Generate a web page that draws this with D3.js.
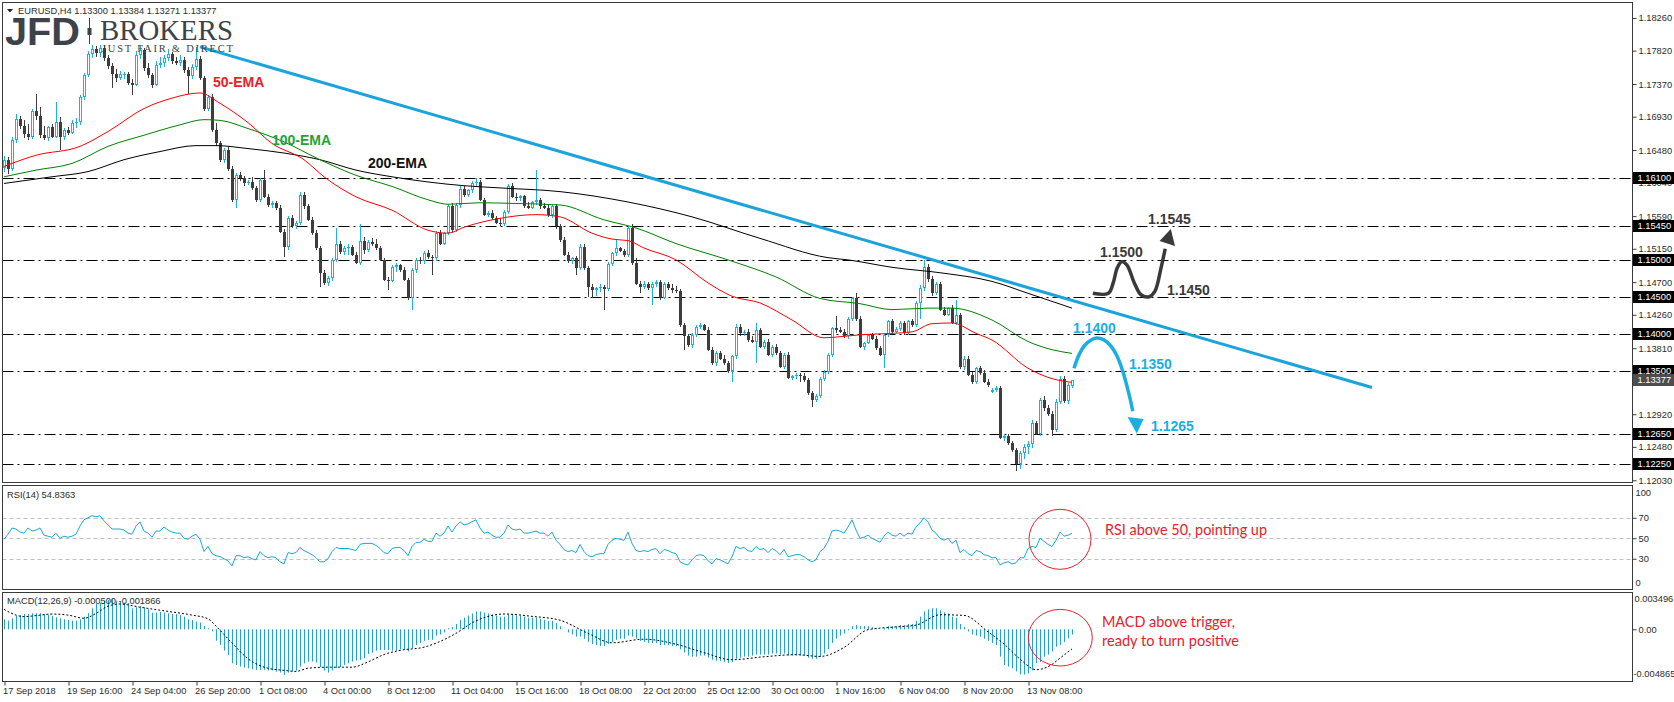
<!DOCTYPE html>
<html><head><meta charset="utf-8">
<script src="https://cdn.jsdelivr.net/npm/d3@7/dist/d3.min.js"></script>
<style>
html,body{margin:0;padding:0;background:#fff;}
svg{display:block;font-family:"Liberation Sans",Arial,sans-serif;}
</style></head><body>
<svg id="chart" width="1674" height="702"></svg>
<script>
// ===== DATA (prices in pips above 1.1000) =====
const basePrice = 1.1000;
const ohlcPips = [
[624,640,618,635],[635,639,616,622],[622,665,620,661],[661,697,657,690],[690,694,676,681],
[681,688,664,669],[669,683,662,665],[665,704,663,700],[700,724,688,694],[694,706,664,668],
[668,681,661,664],[664,681,660,679],[679,683,664,666],[666,713,664,686],[686,693,648,666],
[666,678,662,675],[675,679,668,671],[671,688,669,684],[684,691,678,686],[686,722,682,720],
[720,752,716,749],[749,782,746,778],[778,789,772,784],[784,788,774,779],[779,790,774,786],
[786,789,768,772],[772,776,757,761],[761,766,731,751],[751,757,740,745],[745,755,742,751],
[749,753,744,750],[750,753,736,738],[738,744,722,736],[736,781,734,776],[776,789,771,783],
[783,786,755,758],[758,765,745,749],[749,752,731,736],[736,768,734,763],[763,773,759,766],
[766,776,760,772],[772,784,768,777],[777,780,764,768],[768,774,762,765],[765,776,761,770],
[770,773,752,756],[756,760,724,748],[748,764,744,760],[760,787,756,771],[771,775,742,745],
[745,748,700,704],[704,722,700,720],[720,723,672,675],[675,684,654,657],[657,660,632,635],
[635,651,631,648],[648,652,620,623],[623,627,578,581],[581,617,570,614],[614,619,606,610],
[610,613,600,603],[603,607,601,605],[605,612,594,597],[597,600,578,581],[581,611,578,608],
[608,621,583,585],[585,589,571,574],[574,580,570,576],[576,580,567,570],[570,574,536,538],
[538,541,504,518],[518,559,514,556],[556,560,543,545],[545,553,541,550],[550,591,547,588],
[588,592,569,572],[572,575,552,554],[554,558,534,536],[536,540,514,516],[516,519,464,482],
[482,486,466,469],[469,478,465,475],[475,503,472,500],[500,543,497,522],[522,526,508,511],
[511,519,507,516],[516,521,506,518],[518,520,505,507],[507,511,494,496],[496,549,493,525],
[525,531,508,513],[513,527,511,524],[524,529,519,522],[522,528,514,516],[516,519,498,500],
[500,503,471,473],[473,477,460,472],[472,493,470,491],[491,496,484,493],[493,495,484,486],
[486,490,471,473],[473,476,446,448],[448,489,433,486],[486,502,482,500],[500,504,494,498],
[498,512,495,509],[509,513,501,504],[504,507,480,502],[502,539,499,536],[536,540,520,522],
[522,538,520,536],[536,575,533,572],[572,576,537,540],[540,577,538,574],[574,599,570,596],
[596,600,585,588],[588,596,585,594],[594,606,590,603],[603,610,598,605],[605,607,579,581],
[581,584,559,561],[561,566,558,563],[563,567,554,556],[556,559,548,550],[550,556,546,549],
[549,567,546,565],[565,602,562,599],[599,603,583,585],[585,590,580,583],[583,588,579,586],
[586,588,570,572],[572,578,568,570],[570,580,568,578],[578,621,574,581],[581,584,569,572],
[572,577,568,570],[570,574,558,561],[561,574,556,572],[572,575,542,545],[545,548,524,527],
[527,531,505,507],[507,510,496,498],[498,504,495,502],[502,505,480,489],[489,521,486,518],
[518,522,487,489],[489,492,450,464],[464,467,448,460],[460,464,452,462],[462,467,457,463],
[463,466,433,461],[461,497,458,495],[495,511,492,509],[509,527,505,516],[516,517,510,512],
[512,515,504,507],[507,546,504,543],[543,549,493,496],[496,503,466,468],[468,472,455,464],
[464,471,461,468],[468,470,460,462],[462,470,439,468],[468,473,463,470],[470,473,446,449],
[449,470,447,468],[468,470,460,462],[462,467,456,460],[460,465,455,458],[458,461,410,412],
[412,415,379,397],[397,400,382,385],[385,401,381,399],[399,412,396,410],[410,415,407,412],
[412,414,404,406],[406,409,377,379],[379,382,358,361],[361,377,357,374],[374,377,365,367],
[367,372,359,361],[361,364,347,350],[350,372,336,370],[370,413,366,410],[410,414,398,401],
[401,405,398,403],[403,407,390,392],[392,398,388,390],[390,415,361,406],[406,408,381,383],
[383,392,380,390],[390,393,370,372],[372,385,369,383],[383,386,372,374],[374,377,354,356],
[356,374,353,372],[372,376,339,341],[341,345,338,343],[343,347,340,345],[345,348,336,344],
[344,347,336,338],[338,341,318,320],[320,323,302,311],[311,319,308,317],[317,342,314,340],
[340,351,337,349],[349,374,346,372],[372,410,369,408],[408,424,402,405],[405,409,401,403],
[403,407,395,397],[397,423,393,421],[421,450,418,448],[448,456,417,420],[420,424,381,383],
[383,390,379,388],[388,400,386,399],[399,402,392,394],[394,397,379,381],[381,384,370,372],
[372,400,354,399],[399,419,396,417],[417,420,401,403],[403,410,401,407],[407,417,404,415],
[415,418,399,401],[401,419,399,417],[417,420,410,412],[412,444,410,442],[442,466,420,462],
[462,500,458,490],[490,494,470,474],[474,478,452,455],[455,470,453,467],[467,470,431,433],
[433,437,424,426],[426,437,424,435],[435,439,413,415],[415,446,412,426],[426,429,353,356],
[356,370,352,367],[367,370,343,345],[345,349,333,336],[336,356,333,354],[354,357,345,347],
[347,352,334,336],[336,339,329,332],[322,327,320,325],[325,330,322,327],[327,330,258,260],
[260,266,256,263],[263,265,250,253],[253,256,241,244],[244,247,216,225],[225,242,218,240],
[240,252,232,248],[248,256,238,252],[252,284,247,280],[280,283,264,266],[266,314,262,311],
[311,316,297,300],[300,305,289,292],[292,296,262,271],[271,312,268,309],[309,344,306,340],
[340,344,307,310],[310,334,306,331],[330,338.4,327.1,337.7]
];
// moving averages read at sample bars: [barIndex, pips]
const ema50 = [[0,626],[8,641],[19,653],[26,673],[35,704],[42,718],[49,725],[54,711],[61,685],[67,657],[75,635],[80,612],[88,585],[97,567],[106,540],[111,536],[115,544],[124,556],[133,561],[139,558],[147,536],[152,528],[156,526],[160,516],[168,500],[176,469],[182,451],[189,442],[197,419],[205,395],[210,397],[214,399],[222,401],[227,403],[232,414],[237,415],[243,401],[247,392],[256,354],[262,340],[267,335]];
const ema100 = [[0,612],[8,621],[17,630],[26,653],[35,668],[44,682],[50,689],[54,688],[61,677],[70,659],[79,635],[88,614],[97,599],[106,581],[111,575],[119,577],[128,576],[139,574],[150,554],[158,543],[168,522],[181,500],[193,477],[204,448],[214,441],[222,433],[231,435],[237,435],[247,419],[256,390],[262,379],[267,374]];
const ema200 = [[0,603],[12,612],[21,619],[30,635],[39,646],[48,654],[53,654],[61,650],[70,644],[79,635],[88,621],[97,612],[106,605],[115,600],[124,597],[139,592],[156,578],[172,558],[189,529],[206,503],[211,500],[222,490],[235,482],[247,471],[256,455],[267,435]];
const rsi14 = [
49,54,60,59,56,55,60,57,58,60, 53,52,51,55,50,52,51,52,54,62,
68,70,72,71,72,67,63,59,59,59, 58,55,54,62,66,57,55,51,57,57,
61,58,56,55,55,50,49,52,54,49, 37,42,35,33,32,30,28,23,33,33,
31,32,30,29,37,33,31,32,31,27, 25,36,35,36,41,38,36,34,31,27,
27,30,37,41,40,40,40,39,38,44, 45,45,45,43,40,36,35,40,41,41,
38,33,42,46,46,49,47,47,55,52, 55,62,56,62,66,63,64,66,68,60,
55,56,53,51,51,55,63,59,58,59, 55,55,56,57,55,55,52,56,48,44,
39,37,38,36,44,37,33,32,34,35, 35,44,48,50,49,48,56,45,38,37,
38,37,39,40,35,39,38,36,35,27, 25,24,29,33,34,33,28,25,30,29,
27,25,32,42,40,41,38,37,42,39, 40,36,40,38,34,39,32,33,34,34,
32,29,27,29,37,40,47,57,58,57, 55,61,68,58,50,51,53,50,48,46,
52,56,53,52,55,52,55,54,61,65, 70,66,58,55,50,48,50,45,48,36,
39,35,33,38,37,34,33,31,31,24, 26,27,25,26,31,31,40,42,41,50,
47,44,42,48,56,52,53,54.84];
// MACD main (histogram), in units of 0.0001
const macdMain = [
9.5,8.2,10.4,12.7,13.6,14.6,14.6,15.2,15.2,15.2, 14.6,13.6,12.7,11.4,10.4,9.5,8.9,8.2,8.2,9.5,
12,15.2,19.9,24,25.3,27.2,27.8,28.5,27.2,26.3, 25.3,24,19.9,20.9,22,20.9,19,15.8,15.8,16.5,
15.8,15.2,14.6,14.6,13.6,12,9.5,8.9,7.3,6.3, 3.2,0.9,-2,-10.8,-14.9,-20.2,-24.4,-32.3,-33.9,-35.4,
-36.4,-37,-38,-38.6,-38.6,-38.6,-39.2,-39.2,-40.2,-41.1, -43.4,-41.1,-40.2,-39.2,-35.4,-32.3,-30.7,-30.7,-31.6,-36,
-39.2,-41.1,-39.2,-37,-36,-33.9,-32.3,-30.7,-29.7,-29.1, -27.5,-23.4,-22.2,-20.2,-19.6,-19.6,-19.6,-20.2,-20.2,-19,
-19,-21,-18,-15,-13,-11,-10,-10,-6,-5, -3,1,2,5,9,11,13,15,17,17,
16,15,14,13,12,12,14,14,13,13, 12,11,11,11,10,9,8,8,6,3,
0,-3,-5,-7,-7,-9,-12,-14,-15,-16, -16,-14,-12,-10,-9,-9,-6,-7,-9,-11,
-12,-13,-13,-13,-15,-15,-15,-16,-16,-19, -22,-25,-26,-26,-25,-25,-27,-29,-30,-30,
-31,-32,-31,-28,-27,-26,-26,-25,-24,-24, -24,-24,-23,-23,-24,-23,-25,-25,-25,-25,
-25,-27,-28,-28,-26,-23,-19,-13,-9,-6, -4,-1,3,4,3,3,3,2,1,0,
1,3,3,3,4,4,5,5,8,12, 17,19,20,20,18,16,15,12,11,5,
2,-2,-5,-6,-7,-9,-11,-13,-15,-26, -34,-35.5,-37,-40,-43,-43,-42,-39,-32,-31,
-26,-24,-21,-16.5,-15,-12,-8.5,-5];
// MACD signal read at sample bars: [barIndex, 0.0001 units]
const macdSignal = [[0,19],[2,15],[5,12],[8,13],[12,14.5],[16,13.5],[20,10.5],[23,15],[26,22],[29,24],[34,21],[41,17],[47,13.5],[51,10],[53,3],[57,-13],[61,-28],[66,-37],[70,-39],[73,-40],[76,-37],[81,-36],[87,-36],[91,-31],[95,-24],[99,-20],[105,-17],[112,-6],[118,8],[125,14.5],[132,12.3],[139,8.6],[146,-3.8],[152,-12.8],[160,-9.4],[168,-14.2],[175,-22.2],[182,-28.9],[190,-26.1],[198,-24.1],[204,-25.8],[210,-17.3],[216,-0.4],[222,2],[228,4],[234,13.8],[240,13.2],[246,-2.4],[250,-14],[254,-28.3],[258,-38.4],[262,-33.4],[264,-27.4],[267,-18.66]];
const hLevels = [1.1610,1.1545,1.1500,1.1450,1.1400,1.1350,1.1265,1.1225];
const priceTicks = [1.18260,1.17820,1.17370,1.16930,1.16480,1.16040,1.15590,1.15150,1.14700,1.14260,1.13810,1.12920,1.12480,1.12030];
const lastPrice = 1.13377;
const timeLabelBars = [0,16,32,48,64,80,96,112,128,144,160,176,192,208,224,240,256];
const timeLabels = ["17 Sep 2018","19 Sep 16:00","24 Sep 04:00","26 Sep 20:00","1 Oct 08:00","4 Oct 00:00","8 Oct 12:00","11 Oct 04:00","15 Oct 16:00","18 Oct 08:00","22 Oct 20:00","25 Oct 12:00","30 Oct 00:00","1 Nov 16:00","6 Nov 04:00","8 Nov 20:00","13 Nov 08:00"];
const rsiLevels = [70,50,30];
const trendLine = [[49,1.17870],[342,1.13280]];
// scenario paths: [barIndex, pips]
const bullPath = [[272.2,455],[276.1,455],[277.3,469],[278.3,489],[279.4,497.6],[280.75,493],[282.5,470],[284.25,453],[286.3,450.4],[287.75,458],[289.25,489],[290.3,515]];
const bullHead = [[291.7,541.7],[288.9,525.5],[292.75,518.8]];
const bearPath = [[267.5,354],[268.75,372],[270.25,385.3],[272,392.8],[273.25,394.8],[274.75,392.8],[276.5,385.3],[278.25,370.6],[279.75,349],[281.25,319],[282.2,296]];
const bearHead = [[283.2,266],[280.9,288.3],[284.9,285.6]];
const bullLabels = [["1.1545",286,555],["1.1500",274,511],["1.1450",290.75,459.5]];
const bearLabels = [["1.1400",267.25,408.7],["1.1350",281.25,359.7],["1.1265",286.75,276]];

// ===== DRAWING =====
const svg = d3.select('#chart');
const toP = v => basePrice + v/10000;
const BULL='#1ab2e8', BEAR='#3d3d3d', FRAME='#3a3a3a', TXT='#2b2b2b';
const L=2.5, R=1632.5;
const n = ohlcPips.length;
const x = d3.scaleLinear().domain([0,n-1]).range([4,4+4*(n-1)]);
const yMain = d3.scaleLinear().domain([1.1200,1.18462]).range([482.5,3]);
const yRsi = d3.scaleLinear().domain([0,100]).range([589.5,487]);
const yMacd = d3.scaleLinear().domain([-0.004865,0.003496]).range([680.5,592.5]);

const defs = svg.append('defs');
defs.append('clipPath').attr('id','cMain').append('rect').attr('x',L).attr('y',2.5).attr('width',R-L).attr('height',480);
defs.append('clipPath').attr('id','cRsi').append('rect').attr('x',L).attr('y',485.5).attr('width',R-L).attr('height',104);
defs.append('clipPath').attr('id','cMacd').append('rect').attr('x',L).attr('y',592.5).attr('width',R-L).attr('height',89);

const gMain = svg.append('g').attr('clip-path','url(#cMain)');
gMain.selectAll('line.lvl').data(hLevels).join('line')
  .attr('x1',L).attr('x2',R)
  .attr('y1',d=>Math.round(yMain(d))+0.5).attr('y2',d=>Math.round(yMain(d))+0.5)
  .attr('stroke','#000').attr('stroke-width',1).attr('stroke-dasharray','11,4,2,4');

const gC = gMain.append('g');
ohlcPips.forEach((d,i)=>{
  const [o,h,l,c] = d.map(toP);
  const cx = Math.round(x(i));
  const up = c>=o;
  const yT = Math.round(yMain(Math.max(o,c))), yB = Math.round(yMain(Math.min(o,c)));
  const yH = Math.round(yMain(h)), yL = Math.round(yMain(l));
  if(up){
    if(yH<yT) gC.append('line').attr('x1',cx+0.5).attr('x2',cx+0.5).attr('y1',yH).attr('y2',yT).attr('stroke',BULL);
    if(yL>yB) gC.append('line').attr('x1',cx+0.5).attr('x2',cx+0.5).attr('y1',yB).attr('y2',yL).attr('stroke',BULL);
    if(yB-yT>=2){
      gC.append('rect').attr('x',cx-0.5).attr('y',yT+0.5).attr('width',2).attr('height',yB-yT-1)
        .attr('fill','#fff').attr('stroke',BULL).attr('stroke-width',1);
    } else {
      gC.append('rect').attr('x',cx-1).attr('y',yT).attr('width',3).attr('height',Math.max(1,yB-yT)).attr('fill',BULL);
    }
  } else {
    gC.append('line').attr('x1',cx+0.5).attr('x2',cx+0.5).attr('y1',yH).attr('y2',yL).attr('stroke',BEAR);
    gC.append('rect').attr('x',cx-1).attr('y',yT).attr('width',3).attr('height',Math.max(1,yB-yT)).attr('fill',BEAR);
  }
});

const emaLine = d3.line().x(d=>x(d[0])).y(d=>yMain(toP(d[1]))).curve(d3.curveMonotoneX);
[[ema200,'#000'],[ema100,'#008000'],[ema50,'#ff0000']].forEach(([arr,col])=>{
  gMain.append('path').attr('d',emaLine(arr)).attr('fill','none').attr('stroke',col).attr('stroke-width',1);
});
gMain.append('line').attr('x1',x(trendLine[0][0])).attr('y1',yMain(trendLine[0][1]))
  .attr('x2',x(trendLine[1][0])).attr('y2',yMain(trendLine[1][1]))
  .attr('stroke','#1ba3dc').attr('stroke-width',3);

const emaLbl = [["50-EMA",213,82,'#ee1c25'],["100-EMA",272,140,'#1fa337'],["200-EMA",368,163,'#111']];
emaLbl.forEach(([t,px,py,col])=>{
  svg.append('text').attr('x',px).attr('y',py).attr('dy','0.35em').attr('fill',col)
    .attr('font-size',14).attr('font-weight','bold').text(t);
});

const aLine = d3.line().x(d=>x(d[0])).y(d=>yMain(toP(d[1]))).curve(d3.curveCatmullRom);
svg.append('path').attr('d',aLine(bullPath)).attr('fill','none').attr('stroke','#3a3a3a').attr('stroke-width',3.5);
svg.append('path').attr('d','M'+bullHead.map(d=>[x(d[0]),yMain(toP(d[1]))].join(',')).join('L')+'Z').attr('fill','#3a3a3a');
svg.append('path').attr('d',aLine(bearPath)).attr('fill','none').attr('stroke','#1cade2').attr('stroke-width',3.5);
svg.append('path').attr('d','M'+bearHead.map(d=>[x(d[0]),yMain(toP(d[1]))].join(',')).join('L')+'Z').attr('fill','#1cade2');
bullLabels.forEach(([t,i,p])=>svg.append('text').attr('x',x(i)).attr('y',yMain(toP(p))).attr('dy','0.36em')
  .attr('font-size',14).attr('font-weight','bold').attr('fill','#3a3a3a').text(t));
bearLabels.forEach(([t,i,p])=>svg.append('text').attr('x',x(i)).attr('y',yMain(toP(p))).attr('dy','0.36em')
  .attr('font-size',14).attr('font-weight','bold').attr('fill','#1cade2').text(t));

// RSI panel
const gR = svg.append('g').attr('clip-path','url(#cRsi)');
gR.selectAll('line').data(rsiLevels).join('line').attr('x1',L).attr('x2',R)
  .attr('y1',d=>Math.round(yRsi(d))+0.5).attr('y2',d=>Math.round(yRsi(d))+0.5)
  .attr('stroke','#c0c0c0').attr('stroke-dasharray','4,3');
gR.append('path').attr('d',d3.line().x((d,i)=>x(i)).y(d=>yRsi(d))(rsi14))
  .attr('fill','none').attr('stroke','#19a8d8').attr('stroke-width',1);

// MACD panel
const gM = svg.append('g').attr('clip-path','url(#cMacd)');
gM.selectAll('line.h').data(macdMain).join('line')
  .attr('x1',(d,i)=>Math.round(x(i))+0.5).attr('x2',(d,i)=>Math.round(x(i))+0.5)
  .attr('y1',yMacd(0)).attr('y2',d=>yMacd(d/10000))
  .attr('stroke','#1ea3d5').attr('stroke-width',1);
gM.append('path').attr('d',d3.line().x(d=>x(d[0])).y(d=>yMacd(d[1]/10000)).curve(d3.curveMonotoneX)(macdSignal))
  .attr('fill','none').attr('stroke','#000').attr('stroke-width',1).attr('stroke-dasharray','2,2');

// Frames
const frames = [[2.5,482.5],[485.5,589.5],[592.5,681.5]];
frames.forEach(([t,b])=>svg.append('rect').attr('x',L).attr('y',t).attr('width',R-L).attr('height',b-t)
  .attr('fill','none').attr('stroke',FRAME).attr('stroke-width',1));

// Axes
const axMain = svg.append('g').attr('transform',`translate(${R},0)`)
  .call(d3.axisRight(yMain).tickValues(priceTicks).tickFormat(d3.format('.5f')).tickSize(4).tickPadding(2));
const axR = svg.append('g').attr('transform',`translate(${R},0)`)
  .call(d3.axisRight(yRsi).tickValues(rsiLevels).tickSize(4).tickPadding(2));
const axM = svg.append('g').attr('transform',`translate(${R},0)`)
  .call(d3.axisRight(yMacd).tickValues([0]).tickFormat(()=> '0.00').tickSize(4).tickPadding(2));
const axX = svg.append('g').attr('transform','translate(0,681.5)')
  .call(d3.axisBottom(x).tickValues(timeLabelBars).tickFormat((d,k)=>timeLabels[k]).tickSize(4).tickPadding(2));
[axMain,axR,axM,axX].forEach(a=>{
  a.select('.domain').remove();
  a.selectAll('line').attr('stroke',FRAME);
  a.selectAll('text').attr('font-family','"Liberation Sans",Arial,sans-serif').attr('font-size',9.3).attr('fill',TXT);
});
axX.selectAll('.tick line').attr('transform','translate(0.5,0)');
axX.selectAll('text').attr('text-anchor','start').attr('dx',-1.5);
const edge = [["100",yRsi(100)+5.5,R+3],["0",yRsi(0)-6.8,R+3],["0.003496",yMacd(0.003496)+6.5,R+2],["-0.004865",yMacd(-0.004865)-7.2,R+1]];
edge.forEach(([t,yy,xx])=>svg.append('text').attr('x',xx).attr('y',yy).attr('dy','0.35em')
  .attr('font-size',9.3).attr('fill',TXT).text(t));
hLevels.forEach(v=>{
  const yy = Math.round(yMain(v));
  svg.append('rect').attr('x',R+0.5).attr('y',yy-6).attr('width',1674-R).attr('height',12).attr('fill','#000');
  svg.append('text').attr('x',R+5).attr('y',yy).attr('dy','0.36em').attr('font-size',9.3).attr('fill','#fff').text(v.toFixed(5));
});
{
  const yy = Math.round(yMain(lastPrice));
  svg.append('rect').attr('x',R+0.5).attr('y',yy-6).attr('width',1674-R).attr('height',12).attr('fill','#4d4d4d');
  svg.append('text').attr('x',R+5).attr('y',yy).attr('dy','0.36em').attr('font-size',9.3).attr('fill','#fff').text(lastPrice.toFixed(5));
}
frames.forEach(([t,b])=>svg.append('line').attr('x1',R).attr('x2',R).attr('y1',t).attr('y2',b).attr('stroke',FRAME));

// Titles
svg.append('path').attr('d','M7,9 L13,9 L10,12.5 Z').attr('fill','#222');
svg.append('text').attr('x',18).attr('y',11).attr('dy','0.35em').attr('font-size',9.3).attr('fill',TXT)
  .text('EURUSD,H4  1.13300 1.13384 1.13271 1.13377');
svg.append('text').attr('x',7).attr('y',495).attr('dy','0.35em').attr('font-size',9.3).attr('fill',TXT).text('RSI(14) 54.8363');
svg.append('text').attr('x',7).attr('y',601).attr('dy','0.35em').attr('font-size',9.3).attr('fill',TXT).text('MACD(12,26,9) -0.000500 -0.001866');

// Logo
const LOGO='#3d4349';
svg.append('text').attr('x',5).attr('y',45).attr('font-size',39).attr('font-weight','bold').attr('fill',LOGO)
  .attr('textLength',75).attr('lengthAdjust','spacingAndGlyphs').text('JFD');
svg.append('line').attr('x1',89.5).attr('x2',89.5).attr('y1',18).attr('y2',44).attr('stroke',LOGO).attr('stroke-width',1);
svg.append('rect').attr('x',87.5).attr('y',28).attr('width',4).attr('height',7).attr('fill',LOGO);
svg.append('text').attr('x',100).attr('y',40).attr('font-size',30).attr('font-family','"Liberation Serif",serif').attr('fill',LOGO)
  .attr('textLength',133).attr('lengthAdjust','spacingAndGlyphs').text('BROKERS');
svg.append('text').attr('x',102).attr('y',52).attr('font-size',10.5).attr('font-family','"Liberation Serif",serif').attr('fill',LOGO)
  .attr('textLength',131).attr('lengthAdjust','spacing').text('JUST FAIR & DIRECT');

// Indicator notes
const NOTE='#e8202a';
svg.append('ellipse').attr('cx',1060).attr('cy',539.3).attr('rx',31).attr('ry',30).attr('fill','none').attr('stroke',NOTE).attr('stroke-width',1);
svg.append('ellipse').attr('cx',1060.3).attr('cy',637.7).attr('rx',32).attr('ry',28.3).attr('fill','none').attr('stroke',NOTE).attr('stroke-width',1);
const notes = [["RSI above 50, pointing up",1105,529.3,162],["MACD above trigger,",1102,621.7,133],["ready to turn positive",1102,640.7,137]];
notes.forEach(([t,px,py,w])=>svg.append('text').attr('x',px).attr('y',py).attr('dy','0.35em')
  .attr('font-family','Lato,"Open Sans",sans-serif').attr('font-size',15).attr('fill',NOTE)
  .attr('textLength',w).attr('lengthAdjust','spacingAndGlyphs').text(t));
</script></body></html>
